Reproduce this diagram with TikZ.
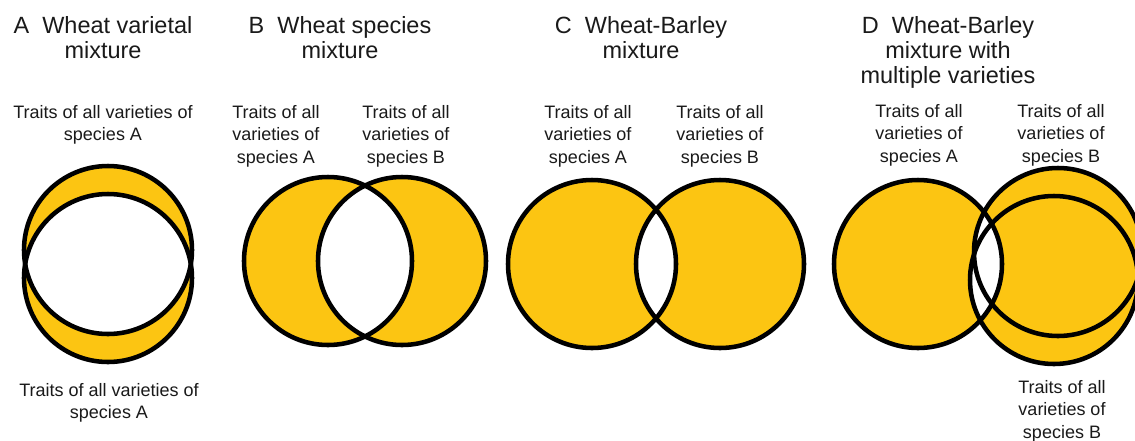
\documentclass[tikz,border=0pt]{standalone}
\usepackage{fontspec}
\setmainfont{Liberation Sans}
\definecolor{venn}{HTML}{FCC512}
\definecolor{inkgray}{HTML}{1A1A1A}

\begin{document}
\begin{tikzpicture}[
  x=0.75pt, y=-0.75pt,
  ring/.style={draw=black, line width=3.4pt},
  paneltitle/.style={align=center, anchor=north, inner sep=0pt, text=inkgray,
                     font=\fontsize{17.6}{18.8}\selectfont},
  trait/.style={align=center, anchor=north, inner sep=0pt, text=inkgray,
                font=\fontsize{13.5}{16.8}\selectfont},
]
\clip (0,0) rectangle (1135,440);
\fill[white] (0,0) rectangle (1135,440);

% circle centres
\coordinate (a1) at (108,250);
\coordinate (a2) at (108,278);
\coordinate (b1) at (328,261);
\coordinate (b2) at (402,261);
\coordinate (c1) at (592,264);
\coordinate (c2) at (720,264);
\coordinate (d1) at (918,264);
\coordinate (d2) at (1058,252);
\coordinate (d3) at (1054,280);

% panels A--C: two circles, overlap left white
\foreach \p/\q in {a1/a2, b1/b2, c1/c2} {
  \fill[venn] (\p) circle (84);
  \fill[venn] (\q) circle (84);
  \begin{scope}
    \clip (\p) circle (84);
    \fill[white] (\q) circle (84);
  \end{scope}
  \draw[ring] (\p) circle (84);
  \draw[ring] (\q) circle (84);
}

% panel D: species B with two varieties
\fill[venn] (d1) circle (84);
\fill[venn] (d2) circle (84);
\fill[venn] (d3) circle (84);
\begin{scope}
  \clip (d1) circle (84);
  \fill[white] (d2) circle (84);
  \fill[white] (d3) circle (84);
\end{scope}
\draw[ring] (d1) circle (84);
\draw[ring] (d2) circle (84);
\draw[ring] (d3) circle (84);

% titles
\node[paneltitle] (titleA) at (103,16) {A\ \ Wheat varietal\\mixture};
\node[paneltitle] (titleB) at (340,16) {B\ \ Wheat species\\mixture};
\node[paneltitle] (titleC) at (641,16) {C\ \ Wheat-Barley\\mixture};
\node[paneltitle] (titleD) at (948,16) {D\ \ Wheat-Barley\\mixture with\\multiple varieties};

% trait labels
\node[trait] (labA) at (103,105) {Traits of all varieties of\\species A};
\node[trait] (labAb) at (109,383) {Traits of all varieties of\\species A};
\node[trait] (labBa) at (276,105) {Traits of all\\varieties of\\species A};
\node[trait] (labBb) at (406,105) {Traits of all\\varieties of\\species B};
\node[trait] (labCa) at (588,105) {Traits of all\\varieties of\\species A};
\node[trait] (labCb) at (720,105) {Traits of all\\varieties of\\species B};
\node[trait] (labDa) at (919,104) {Traits of all\\varieties of\\species A};
\node[trait] (labDb) at (1061,104) {Traits of all\\varieties of\\species B};
\node[trait] (labDc) at (1062,380) {Traits of all\\varieties of\\species B};
\end{tikzpicture}
\end{document}
